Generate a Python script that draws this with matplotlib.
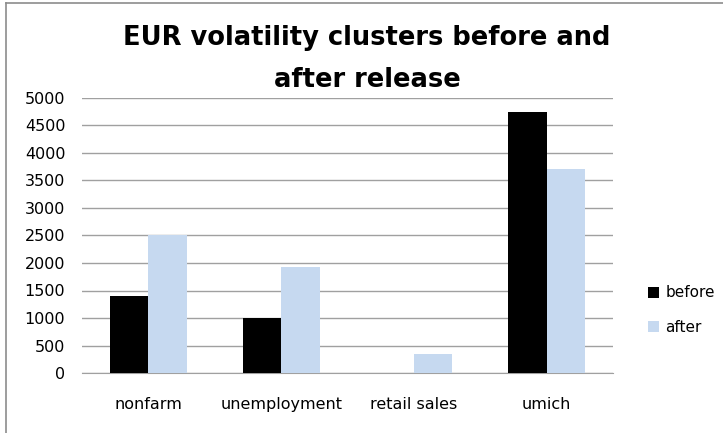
import numpy as np
import matplotlib
matplotlib.use("Agg")
import matplotlib.pyplot as plt
from matplotlib.lines import Line2D

# data
categories = ["nonfarm", "unemployment", "retail sales", "umich"]
before = [1400, 1000, 0, 4750]
after = [2500, 1930, 350, 3710]
yticks = list(range(0, 5001, 500))

plt.rcParams['font.family'] = ['DejaVu Sans']

W, H = 723, 433
fig = plt.figure(figsize=(W / 100, H / 100), dpi=100)
ax = fig.add_axes([82 / W, 1 - 373 / H, (613 - 82) / W, (373 - 98) / H])

x = np.arange(len(categories))
bw = 0.29
ax.bar(x - bw / 2, before, bw, color='black', label='before', zorder=3)
ax.bar(x + bw / 2, after, bw, color='#c6d9f0', label='after', zorder=3)

ax.set_xlim(-0.5, len(categories) - 0.5)
ax.set_ylim(0, 5000)
ax.set_yticks(yticks)
ax.set_xticks(x)
ax.set_xticklabels(categories, fontsize=11.5)
ax.tick_params(axis='x', length=0, pad=17)
ax.tick_params(axis='y', length=0, labelsize=11.5, pad=12)
ax.yaxis.grid(True, color='#a0a0a0', linewidth=1, zorder=0)
for s in ['top', 'right', 'left']:
    ax.spines[s].set_visible(False)
ax.spines['bottom'].set_color('#a0a0a0')

fig.text(367 / W, 1 - 38 / H, "EUR volatility clusters before and", ha='center', va='center',
         fontsize=18.5, fontweight='bold')
fig.text(367 / W, 1 - 80 / H, "after release", ha='center', va='center',
         fontsize=18.5, fontweight='bold')

leg = fig.legend(loc='center left', bbox_to_anchor=(648 / W, 1 - 310 / H), frameon=False,
                 fontsize=11, handlelength=0.75, handleheight=0.75, handletextpad=0.4,
                 labelspacing=1.25, borderpad=0, borderaxespad=0)

# outer border
fig.add_artist(Line2D([6 / W, 6 / W], [0, 1 - 3 / H], color='#8c8c8c', linewidth=1.2,
                      transform=fig.transFigure))
fig.add_artist(Line2D([6 / W, 1], [1 - 3 / H, 1 - 3 / H], color='#8c8c8c', linewidth=1.2,
                      transform=fig.transFigure))

fig.savefig("out.png", dpi=100)
